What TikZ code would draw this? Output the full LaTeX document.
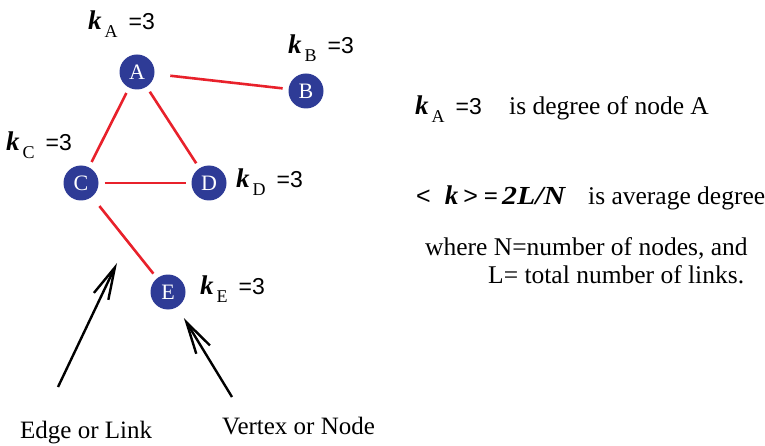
\documentclass[tikz,border=0pt]{standalone}
\usepackage{fontspec}
\setmainfont{Liberation Serif}
\setsansfont{Liberation Sans}
\usepackage{tikz}
\usetikzlibrary{positioning,
                arrows.meta}
\usepackage{xcolor}
\definecolor{vertexblue}{HTML}{2E3B96}
\definecolor{linkred}{HTML}{E8212B}

% k with subscript and value
\newcommand{\kdeg}[1]{{\fontsize{27}{27}\selectfont\bfseries\itshape k}\hspace{3pt}%
\raisebox{-8pt}{\fontsize{18}{18}\selectfont #1}\hspace{11pt}%
{\fontsize{23}{23}\selectfont\sffamily =3}}

\begin{document}
\begin{tikzpicture}[x=1pt,y=-1pt]

\tikzset{
vertex/.style={
circle,
fill=vertexblue,
text=white,
minimum size=35pt,
inner sep=0pt,
outer sep=6pt,
font=\fontsize{22}{22}\selectfont
},
link/.style={
draw=linkred,
line width=2.6pt
},
degree/.style={
anchor=base west,
inner sep=0pt
},
note/.style={
anchor=base west,
inner sep=0pt,
font=\fontsize{25.5}{25.5}\selectfont
},
pointer/.style={
line width=2.4pt,
-{Straight Barb[length=32pt,width=16pt]}
}
}

\useasboundingbox (0,0) rectangle (765,446);

%--------------------------------------------------
% VERTICES
%--------------------------------------------------

\node[vertex] (A) at (137,72) {A};
\node[vertex] (B) at (306,91) {B};
\node[vertex] (C) at (81,183) {C};
\node[vertex] (D) at (209,183) {D};
\node[vertex] (E) at (168,292) {E};

%--------------------------------------------------
% LINKS
%--------------------------------------------------

\draw[link,shorten <=10pt] (A) -- (B);
\draw[link] (A) -- (C);
\draw[link] (A) -- (D);
\draw[link] (C) -- (D);
\draw[link,shorten <=6pt] (C) -- (E);

%--------------------------------------------------
% DEGREES
%--------------------------------------------------

\node[degree] (kA) at (88,30) {\kdeg{A}};
\node[degree] (kB) at (288,54) {\kdeg{B}};
\node[degree] (kC) at (6,151) {\kdeg{C}};
\node[degree] (kD) at (236,188) {\kdeg{D}};
\node[degree] (kE) at (200,294) {\kdeg{E}};

%--------------------------------------------------
% DEFINITIONS
%--------------------------------------------------

\node[degree] (kdef) at (415,115) {\kdeg{A}};
\node[note] (degdef) at (509,115) {is degree of node A};

\node[degree] (avg) at (416,205)
{{\fontsize{25}{25}\selectfont\sffamily <}\hspace{14pt}%
{\fontsize{27}{27}\selectfont\bfseries\itshape k}\hspace{5pt}%
{\fontsize{25}{25}\selectfont\sffamily >}\hspace{6pt}%
{\fontsize{25}{25}\selectfont\bfseries =}\hspace{4pt}%
\scalebox{1.15}[1]{\fontsize{26}{26}\selectfont\bfseries\itshape 2L/N}};
\node[note] (avgdef) at (588,205) {is average degree};

\node[note] (where1) at (425,255) {where N=number of nodes, and};
\node[note] (where2) at (488,283) {L= total number of links.};

%--------------------------------------------------
% POINTERS
%--------------------------------------------------

\coordinate (etail) at (58,387);
\coordinate (etip) at (117,263);
\coordinate (vtail) at (232,397);

\draw[pointer] (etail) -- (etip);
\draw[pointer,shorten >=7pt] (vtail) -- (E);

\node[note,font=\fontsize{25}{25}\selectfont] (elabel) at (20,438) {Edge or Link};
\node[note,font=\fontsize{25}{25}\selectfont] (vlabel) at (222,434) {Vertex or Node};

\end{tikzpicture}
\end{document}
